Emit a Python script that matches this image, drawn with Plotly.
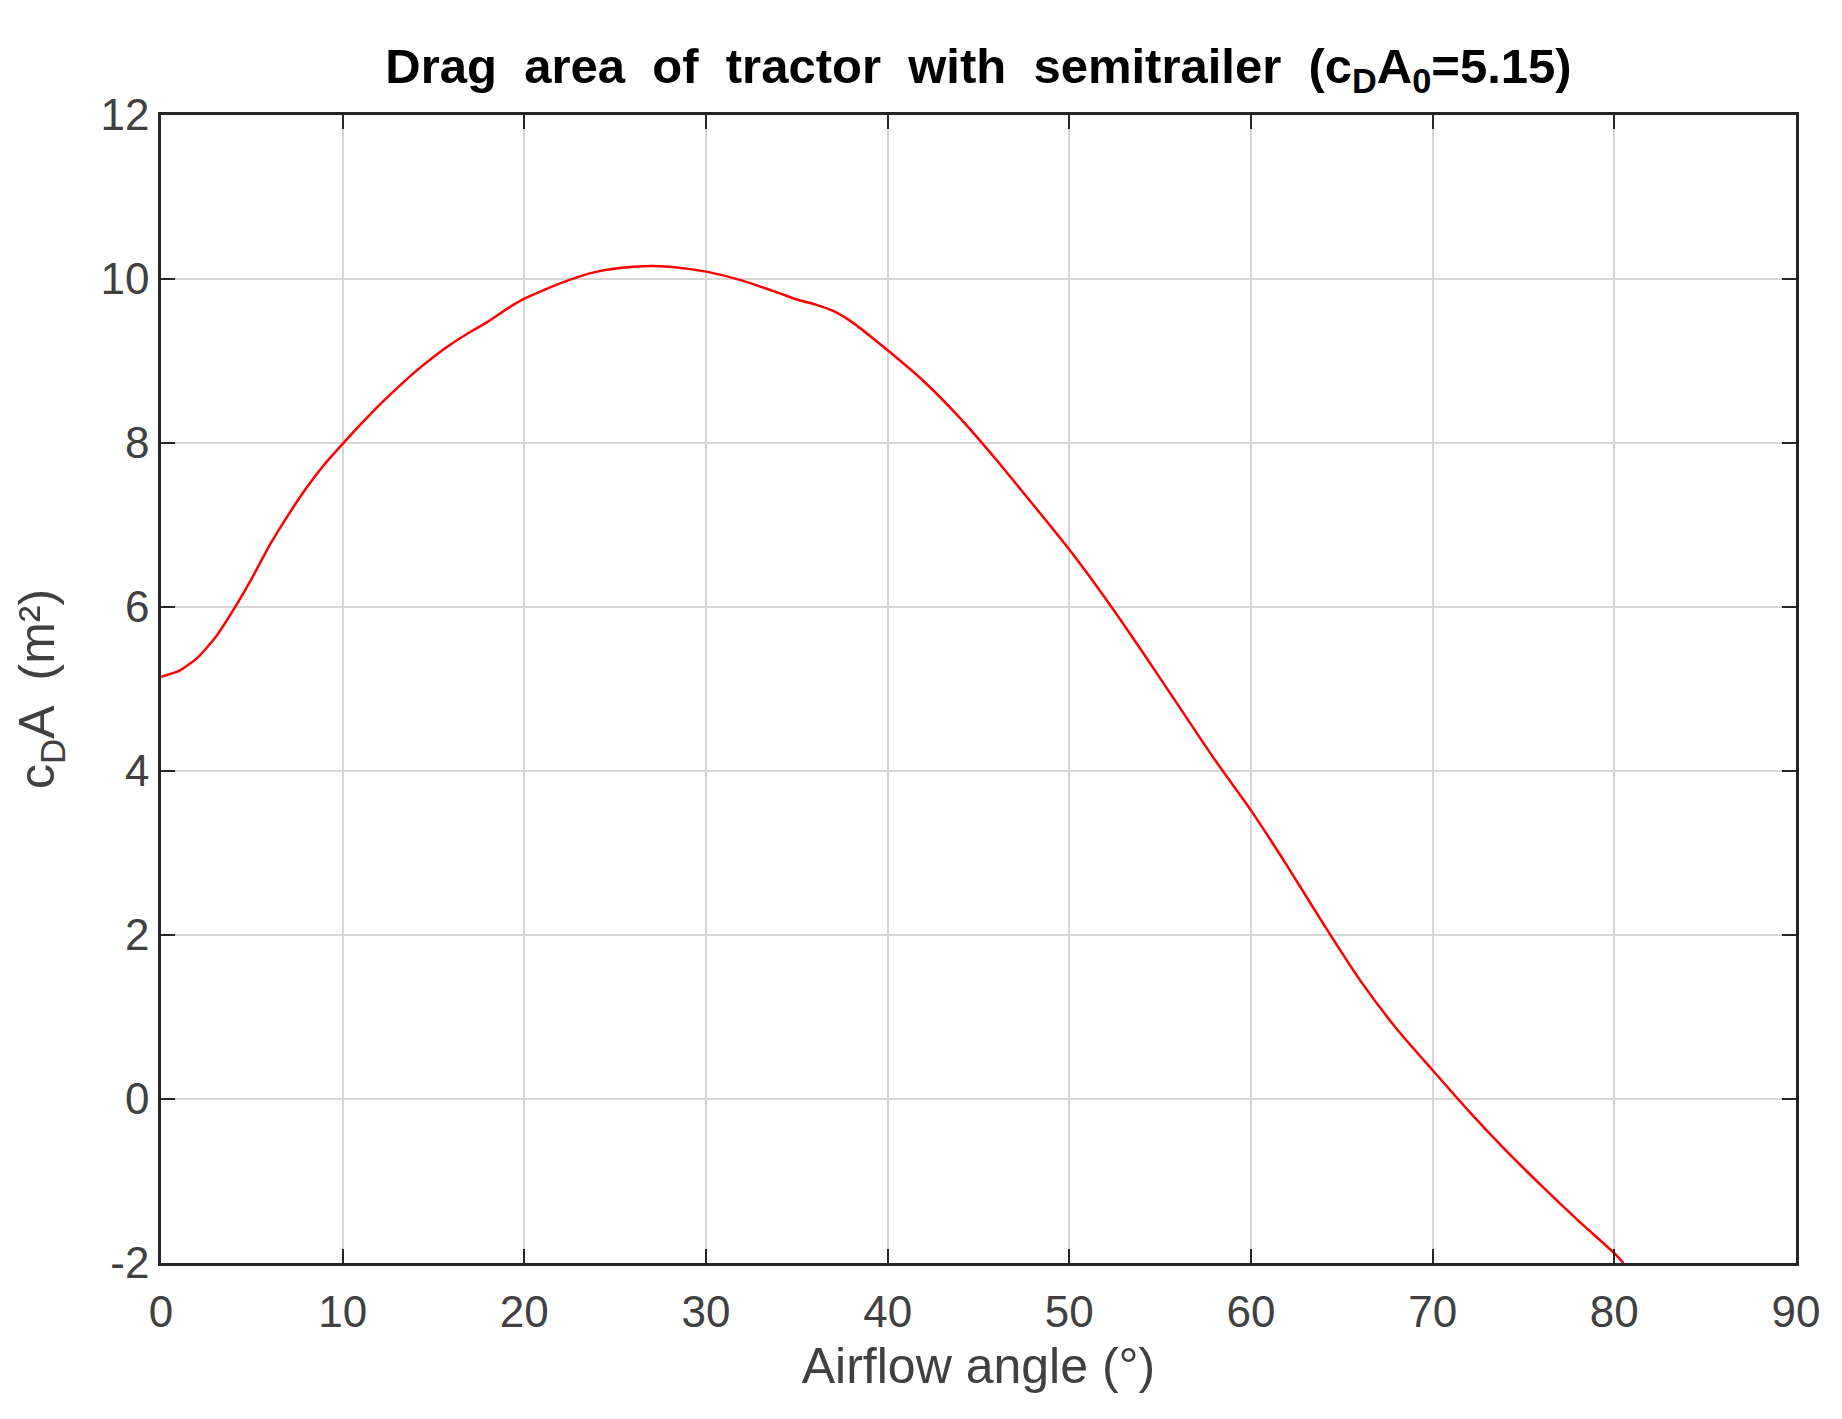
import plotly.graph_objects as go

angle = [0, 1, 2, 3, 4, 5, 6, 7, 8, 9, 10, 11, 12, 13, 14, 15, 16, 17, 18, 19, 20,
         22, 24, 26, 27, 28, 30, 32, 34, 35, 36, 37, 38, 40, 42, 44, 46, 48, 50,
         52, 54, 56, 58, 60, 62, 64, 66, 68, 70, 72, 74, 76, 78, 80, 80.5]
cda = [5.15, 5.22, 5.38, 5.63, 5.97, 6.35, 6.76, 7.12, 7.45, 7.74, 7.99, 8.23, 8.46,
       8.67, 8.87, 9.05, 9.21, 9.35, 9.48, 9.63, 9.76,
       9.95, 10.09, 10.15, 10.16, 10.15, 10.09, 9.98, 9.83, 9.75, 9.69, 9.61, 9.48,
       9.13, 8.75, 8.30, 7.79, 7.25, 6.70, 6.10, 5.46, 4.80, 4.14, 3.52, 2.84, 2.13,
       1.45, 0.86, 0.35, -0.15, -0.62, -1.06, -1.48, -1.88, -2.00]

x_ticks = [0, 10, 20, 30, 40, 50, 60, 70, 80, 90]
y_ticks = [-2, 0, 2, 4, 6, 8, 10, 12]

FONT = "Liberation Sans, Arial, sans-serif"

fig = go.Figure()
fig.add_trace(go.Scatter(x=angle, y=cda, mode="lines",
                         line=dict(color="#ff0000", width=2.5, shape="spline", smoothing=0.6),
                         showlegend=False))

axis_common = dict(
    showline=True, linecolor="#262626", linewidth=2.5, mirror="ticks",
    ticks="inside", ticklen=14, tickwidth=2, tickcolor="#262626",
    showgrid=True, gridcolor="#d6d6d6", gridwidth=1.5, zeroline=False,
    tickfont=dict(family=FONT, size=44, color="#404040"),
)

W, H = 1834, 1411
L, T = 153, 107
R = W - (1796 - 8)
B = H - (1263 - 8)

fig.update_layout(
    width=W, height=H,
    paper_bgcolor="white", plot_bgcolor="white",
    margin=dict(l=L, r=R, t=T, b=B, autoexpand=False),
    title=dict(
        text="<b>Drag  area  of  tractor  with  semitrailer  (c<sub>D</sub>A<sub>0</sub>=5.15)</b>",
        x=(L + (W - R)) / 2 / W, xanchor="center", y=1 - 58 / H, yanchor="middle",
        font=dict(family=FONT, size=49, color="#000000"),
    ),
    xaxis=dict(range=[0, 90], tickvals=x_ticks, ticktext=[str(v) for v in x_ticks],
               ticklabelstandoff=8,
               title=dict(text="Airflow angle (°)", standoff=14,
                          font=dict(family=FONT, size=50, color="#404040")),
               **axis_common),
    yaxis=dict(range=[-2, 12], tickvals=y_ticks, ticktext=[str(v) for v in y_ticks],
               title=dict(text="c<sub>D</sub>A  (m²)", standoff=30,
                          font=dict(family=FONT, size=50, color="#404040")),
               **axis_common),
)

fig.write_html("out.html")
